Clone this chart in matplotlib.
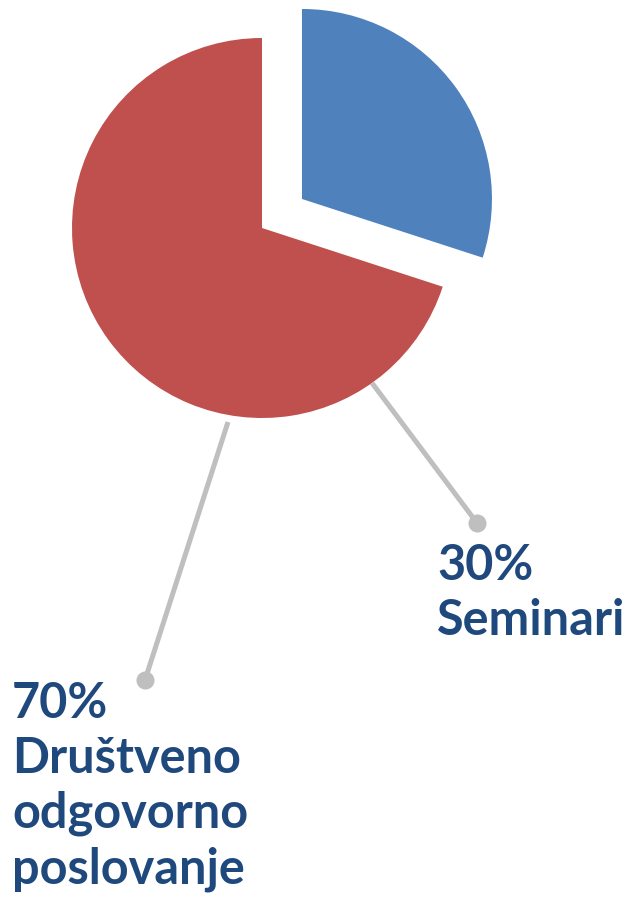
import matplotlib
matplotlib.use("Agg")
from matplotlib import pyplot as plt

# Donnees du graphique
categories = ["Seminari", "Društveno\nodgovorno\nposlovanje"]
valeurs = [30, 70]
couleurs = ["#4F81BD", "#C0504D"]
eclatement = [0.26, 0]   # fraction du rayon

W, H = 638, 901
R = 190
fig = plt.figure(figsize=(W / 100, H / 100), dpi=100)
ax = fig.add_axes([0, 0, 1, 1])

# Camembert (coordonnees en pixels, y vers le haut)
ax.pie(valeurs, colors=couleurs, explode=[e * R for e in eclatement],
       startangle=90, counterclock=False, center=(262, H - 228), radius=R,
       wedgeprops=dict(linewidth=0), frame=True)
ax.set_xlim(0, W)
ax.set_ylim(0, H)
ax.set_aspect("equal")
ax.axis("off")

# Lignes de rappel et etiquettes
gris = "#BFBFBF"
bleu_texte = "#1F497D"
rappels = [((372, 383), (477, 523)), ((228, 422), (145, 680))]
positions = [(437, 580), (12, 718)]   # ligne de base de la premiere ligne
interligne = 55
for (debut, fin), (tx, ty), val, cat in zip(rappels, positions, valeurs, categories):
    ax.plot([debut[0], fin[0]], [H - debut[1], H - fin[1]], color=gris,
            lw=3.6, solid_capstyle="butt")
    ax.plot(fin[0], H - fin[1], "o", color=gris, ms=13, mew=0)
    lignes = [f"{val}%"] + cat.split("\n")
    for i, ligne in enumerate(lignes):
        ax.text(tx, H - ty - i * interligne, ligne, ha="left", va="baseline",
                fontsize=35, fontweight="bold", color=bleu_texte,
                family="Lato")

plt.savefig("out.png", dpi=100)
